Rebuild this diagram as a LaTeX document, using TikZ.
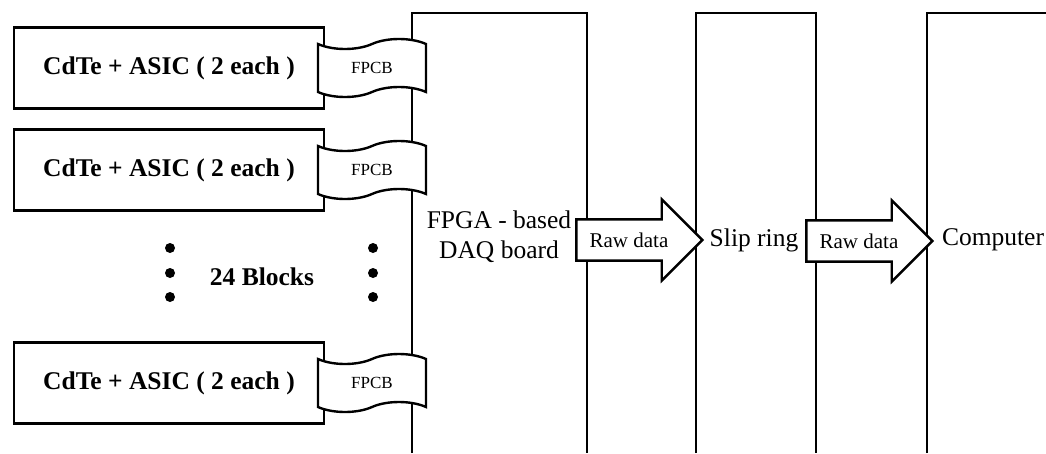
\documentclass[tikz,border=0pt]{standalone}
\usepackage{fontspec}
\setmainfont{Liberation Serif}
\usetikzlibrary{shapes.symbols,shapes.arrows}
\begin{document}
\begin{tikzpicture}[x=1pt, y=-1pt, line width=2.4pt,
    every node/.style={font=\fontsize{25.5}{30}\selectfont},
    blockbox/.style={draw, minimum width=310pt, minimum height=81pt, font=\fontsize{25.5}{30}\selectfont\bfseries},
    flexcable/.style={draw, fill=white, shape=tape, minimum width=108pt, minimum height=58pt, tape bend height=10pt, inner sep=0pt, font=\fontsize{17}{20}\selectfont},
    dataarrow/.style={draw, fill=white, single arrow, single arrow head extend=20pt, minimum height=126pt, inner ysep=12pt, inner xsep=4pt, font=\fontsize{21}{24}\selectfont, anchor=tip}]
    \useasboundingbox (0,0) rectangle (1046,453);
    % stages, open at the bottom
    \draw (412,453) -- (412,13) -- (587,13) -- (587,453);
    \draw (696,453) -- (696,13) -- (816,13) -- (816,453);
    \draw (927,453) -- (927,13) -- (1050,13);
    % detector blocks and their flex cables
    \foreach \n/\y in {1/68, 2/170, 3/383}{
        \node[blockbox] (blk\n) at (169,\y) {CdTe + ASIC ( 2 each )};
        \node[flexcable] (fpcb\n) at (372,\y) {FPCB};
    }
    \foreach \x in {170,373}{
        \foreach \y in {248,273,297}{
            \fill (\x,\y) circle (5pt);
        }
    }
    \node[font=\fontsize{25.5}{30}\selectfont\bfseries] (count) at (262,277) {24 Blocks};
    % stage labels
    \node[align=center] (fpga) at (499,237) {FPGA - based\\DAQ board};
    \node (slip) at (754,240) {Slip ring};
    \node (pc) at (993,240) {Computer};
    \node[dataarrow] (raw1) at (704,240) {Raw data};
    \node[dataarrow] (raw2) at (934,241) {Raw data};
\end{tikzpicture}
\end{document}
